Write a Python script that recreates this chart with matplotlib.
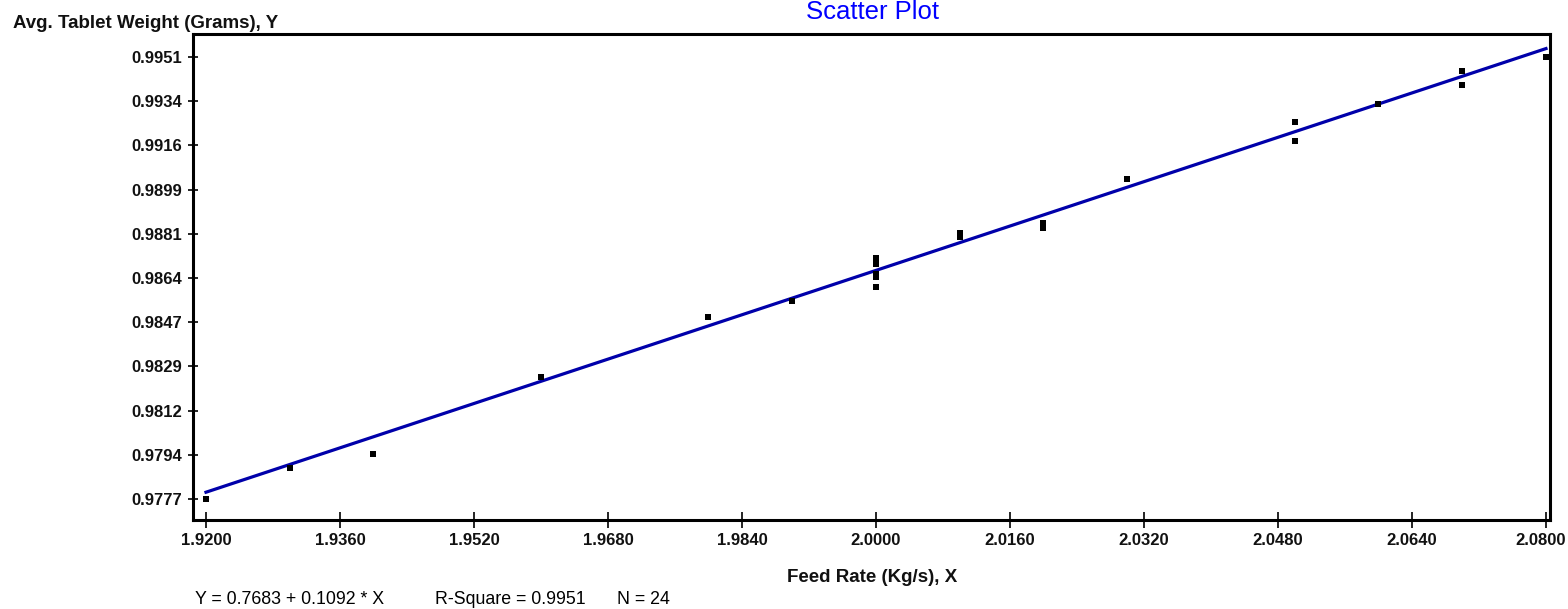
import numpy as np
import matplotlib
matplotlib.use("Agg")
import matplotlib.pyplot as plt
import matplotlib.transforms as mtransforms

plt.rcParams['font.family'] = ['Liberation Sans', 'DejaVu Sans']

# Feed rate (Kg/s) and average tablet weight (g) observations
feed_rate = [1.92, 1.93, 1.94, 1.96, 1.98, 1.99,
             2.00, 2.00, 2.00, 2.00, 2.00, 2.00,
             2.01, 2.01, 2.01,
             2.02, 2.02, 2.03,
             2.05, 2.05, 2.06,
             2.07, 2.07, 2.08]
tablet_weight = [0.97770, 0.97892, 0.97947, 0.98251, 0.98488, 0.98550,
                 0.98719, 0.98707, 0.98695, 0.98656, 0.98644, 0.98605,
                 0.98817, 0.98809, 0.98801,
                 0.98857, 0.98837, 0.99030,
                 0.99254, 0.99179, 0.99325,
                 0.99455, 0.99400, 0.99511]

# Fitted regression
intercept = 0.7683
slope = 0.1092
r_square = 0.9951

x_tick_labels = ["1.9200", "1.9360", "1.9520", "1.9680", "1.9840", "2.0000",
                 "2.0160", "2.0320", "2.0480", "2.0640", "2.0800"]
y_tick_labels = ["0.9777", "0.9794", "0.9812", "0.9829", "0.9847", "0.9864",
                 "0.9881", "0.9899", "0.9916", "0.9934", "0.9951"]

W, H = 1568, 609
fig = plt.figure(figsize=(W / 100, H / 100), dpi=100)
ax = fig.add_axes([193 / W, 1 - 520 / H, (1550 - 193) / W, (520 - 34) / H])

x = np.array(feed_rate)
y = np.array(tablet_weight)

xs = np.array([x.min(), x.max()])
ax.plot(xs, intercept + slope * xs, color="#0000AA", lw=2.3, zorder=2)
ax.scatter(x, y, marker="s", s=15, color="black", zorder=3, linewidths=0)

x_ticks = [float(t) for t in x_tick_labels]
y_ticks = np.linspace(float(y_tick_labels[0]), float(y_tick_labels[-1]), len(y_tick_labels))
ax.set_xticks(x_ticks)
ax.set_xticklabels(x_tick_labels)
ax.set_yticks(y_ticks)
ax.set_yticklabels(y_tick_labels)

ax.set_xlim(1.91845, 2.08048)
ax.set_ylim(0.97687, 0.99601)

for s in ax.spines.values():
    s.set_linewidth(2.2)
    s.set_color("black")

ax.tick_params(axis="x", direction="inout", length=11, width=1.2, pad=4)
ax.tick_params(axis="y", direction="inout", length=7, width=1.2, pad=4)
for lab in ax.get_xticklabels() + ax.get_yticklabels():
    lab.set_fontweight("bold")
    lab.set_fontsize(12)
    lab.set_color("#111111")

# keep the last x tick label inside the canvas
last = ax.get_xticklabels()[-1]
last.set_transform(last.get_transform() +
                   mtransforms.ScaledTranslation(-5 / 100, 0, fig.dpi_scale_trans))

fig.text(872 / W, 1 - 12 / H, "Scatter Plot", ha="center", va="center",
         fontsize=18.5, color="#0000FF")
fig.text(13 / W, 1 - 23 / H, "Avg. Tablet Weight (Grams), Y", ha="left",
         va="center", fontsize=13.5, fontweight="bold", color="#111111")
fig.text(872 / W, 1 - 577 / H, "Feed Rate (Kg/s), X", ha="center",
         va="center", fontsize=13.5, fontweight="bold", color="#111111")

fig.text(195 / W, 1 - 600 / H, f"Y = {intercept:.4f} + {slope:.4f} * X",
         ha="left", va="center", fontsize=12.8)
fig.text(435 / W, 1 - 600 / H, f"R-Square = {r_square:.4f}",
         ha="left", va="center", fontsize=12.8)
fig.text(617 / W, 1 - 600 / H, f"N = {len(feed_rate)}",
         ha="left", va="center", fontsize=12.8)

fig.savefig("out.png", dpi=100)
